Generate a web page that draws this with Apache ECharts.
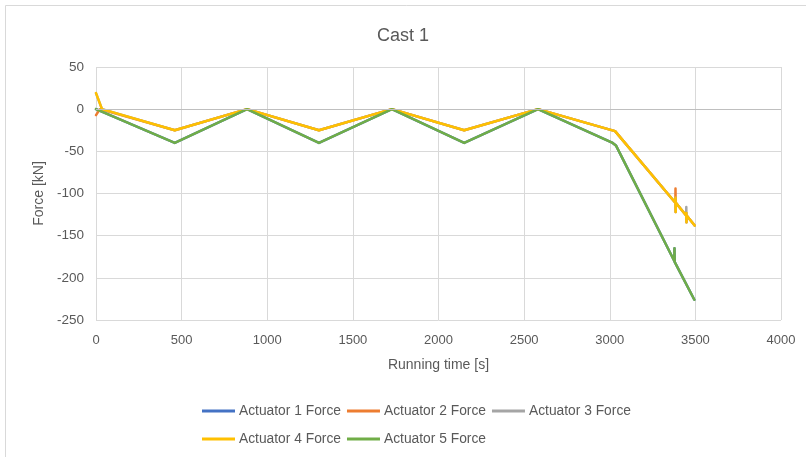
<!DOCTYPE html>
<html>
<head>
<meta charset="utf-8">
<script src="https://cdn.jsdelivr.net/npm/echarts@6/dist/echarts.min.js"></script>
<style>html,body{margin:0;padding:0;background:#fff}#c{width:806px;height:457px}</style>
</head>
<body>
<div id="c"></div>
<script>
var titleText = 'Cast 1';
var xName = 'Running time [s]';
var yName = 'Force [kN]';
var seriesNames = ['Actuator 1 Force', 'Actuator 2 Force', 'Actuator 3 Force', 'Actuator 4 Force', 'Actuator 5 Force'];
var colors = ['#4472C4', '#ED7D31', '#A5A5A5', '#FFC000', '#70AD47'];

var t1 = [0, 460, 882, 1302, 1728, 2150, 2581, 3017, 3036, 3377, 3378, 3379, 3494];
var f1 = [0, -40, 0, -40, 0, -40, 0, -40, -43, -180, -165, -181, -226];

var t2 = [0, 23, 460, 882, 1302, 1728, 2150, 2581, 3031, 3383, 3384, 3385, 3386, 3446, 3447, 3448, 3449, 3496];
var f2 = [-7, 0, -25, 0, -25, 0, -25, 0, -26, -111, -94, -122, -111, -126, -123, -134, -126, -138];

var t3 = [0, 35, 460, 882, 1302, 1728, 2150, 2581, 3031, 3383, 3384, 3385, 3386, 3446, 3447, 3448, 3449, 3496];
var f3 = [19, 0, -25, 0, -25, 0, -25, 0, -26, -111, -105, -122, -111, -126, -116, -134, -126, -138];

var t4 = [0, 35, 460, 882, 1302, 1728, 2150, 2581, 3031, 3383, 3384, 3385, 3386, 3446, 3447, 3448, 3449, 3496];
var f4 = [19, 0, -25, 0, -25, 0, -25, 0, -26, -111, -105, -122, -111, -126, -123, -134, -126, -138];

var t5 = [0, 460, 882, 1302, 1728, 2150, 2581, 3017, 3036, 3377, 3378, 3379, 3494];
var f5 = [0, -40, 0, -40, 0, -40, 0, -40, -43, -180, -165, -181, -226];

function zip(t, f) { return t.map(function (v, i) { return [v, f[i]]; }); }
var allT = [t1, t2, t3, t4, t5];
var allF = [f1, f2, f3, f4, f5];

var FONT = 'Liberation Sans';
var TXT = '#595959';

var series = seriesNames.map(function (n, i) {
  var s = {
    name: n, type: 'line', data: zip(allT[i], allF[i]),
    showSymbol: false, symbol: 'none', animation: false,
    lineStyle: { color: colors[i], width: 2.5, join: 'round', cap: 'round' },
    itemStyle: { color: colors[i] }
  };
  if (i === 0) {
    s.markLine = { silent: true, symbol: 'none', label: { show: false }, animation: false,
      lineStyle: { color: '#bfbfbf', width: 1, type: 'solid' }, data: [{ yAxis: 0 }] };
  }
  return s;
});

var chart = echarts.init(document.getElementById('c'), null, { renderer: 'canvas' });
chart.setOption({
  backgroundColor: '#fff',
  animation: false,
  graphic: [{ type: 'rect', shape: { x: 5.5, y: 5.5, width: 820, height: 480 }, style: { fill: 'none', stroke: '#d9d9d9', lineWidth: 1 }, silent: true }],
  title: { text: titleText, left: 'center', top: 22, textStyle: { fontFamily: FONT, fontSize: 18, fontWeight: 'normal', color: TXT } },
  grid: { left: 96, right: 25, top: 67, bottom: 137, containLabel: false },
  legend: [
    { data: seriesNames.slice(0, 3), left: 197, top: 399, icon: 'rect', itemWidth: 33, itemHeight: 3, itemGap: 6,
      textStyle: { fontFamily: FONT, fontSize: 13.8, color: TXT, padding: [0, 0, 0, -1] } },
    { data: seriesNames.slice(3), left: 197, top: 427, icon: 'rect', itemWidth: 33, itemHeight: 3, itemGap: 6,
      textStyle: { fontFamily: FONT, fontSize: 13.8, color: TXT, padding: [0, 0, 0, -1] } }
  ],
  xAxis: {
    type: 'value', min: 0, max: 4000, interval: 500,
    name: xName, nameLocation: 'middle', nameGap: 38,
    nameTextStyle: { fontFamily: FONT, fontSize: 14, color: TXT },
    axisLine: { show: false }, axisTick: { show: false },
    axisLabel: { fontFamily: FONT, fontSize: 13, color: TXT, margin: 14, formatter: function (v) { return String(v); } },
    splitLine: { show: true, lineStyle: { color: '#d9d9d9', width: 1 } }
  },
  yAxis: {
    type: 'value', min: -250, max: 50, interval: 50,
    name: yName, nameLocation: 'middle', nameGap: 49, nameRotate: 90,
    nameTextStyle: { fontFamily: FONT, fontSize: 14, color: TXT },
    axisLine: { show: false }, axisTick: { show: false },
    axisLabel: { fontFamily: FONT, fontSize: 13.5, color: TXT, margin: 12, formatter: function (v) { return String(v); } },
    splitLine: { show: true, lineStyle: { color: '#d9d9d9', width: 1 } }
  },
  series: series
});
</script>
</body>
</html>
